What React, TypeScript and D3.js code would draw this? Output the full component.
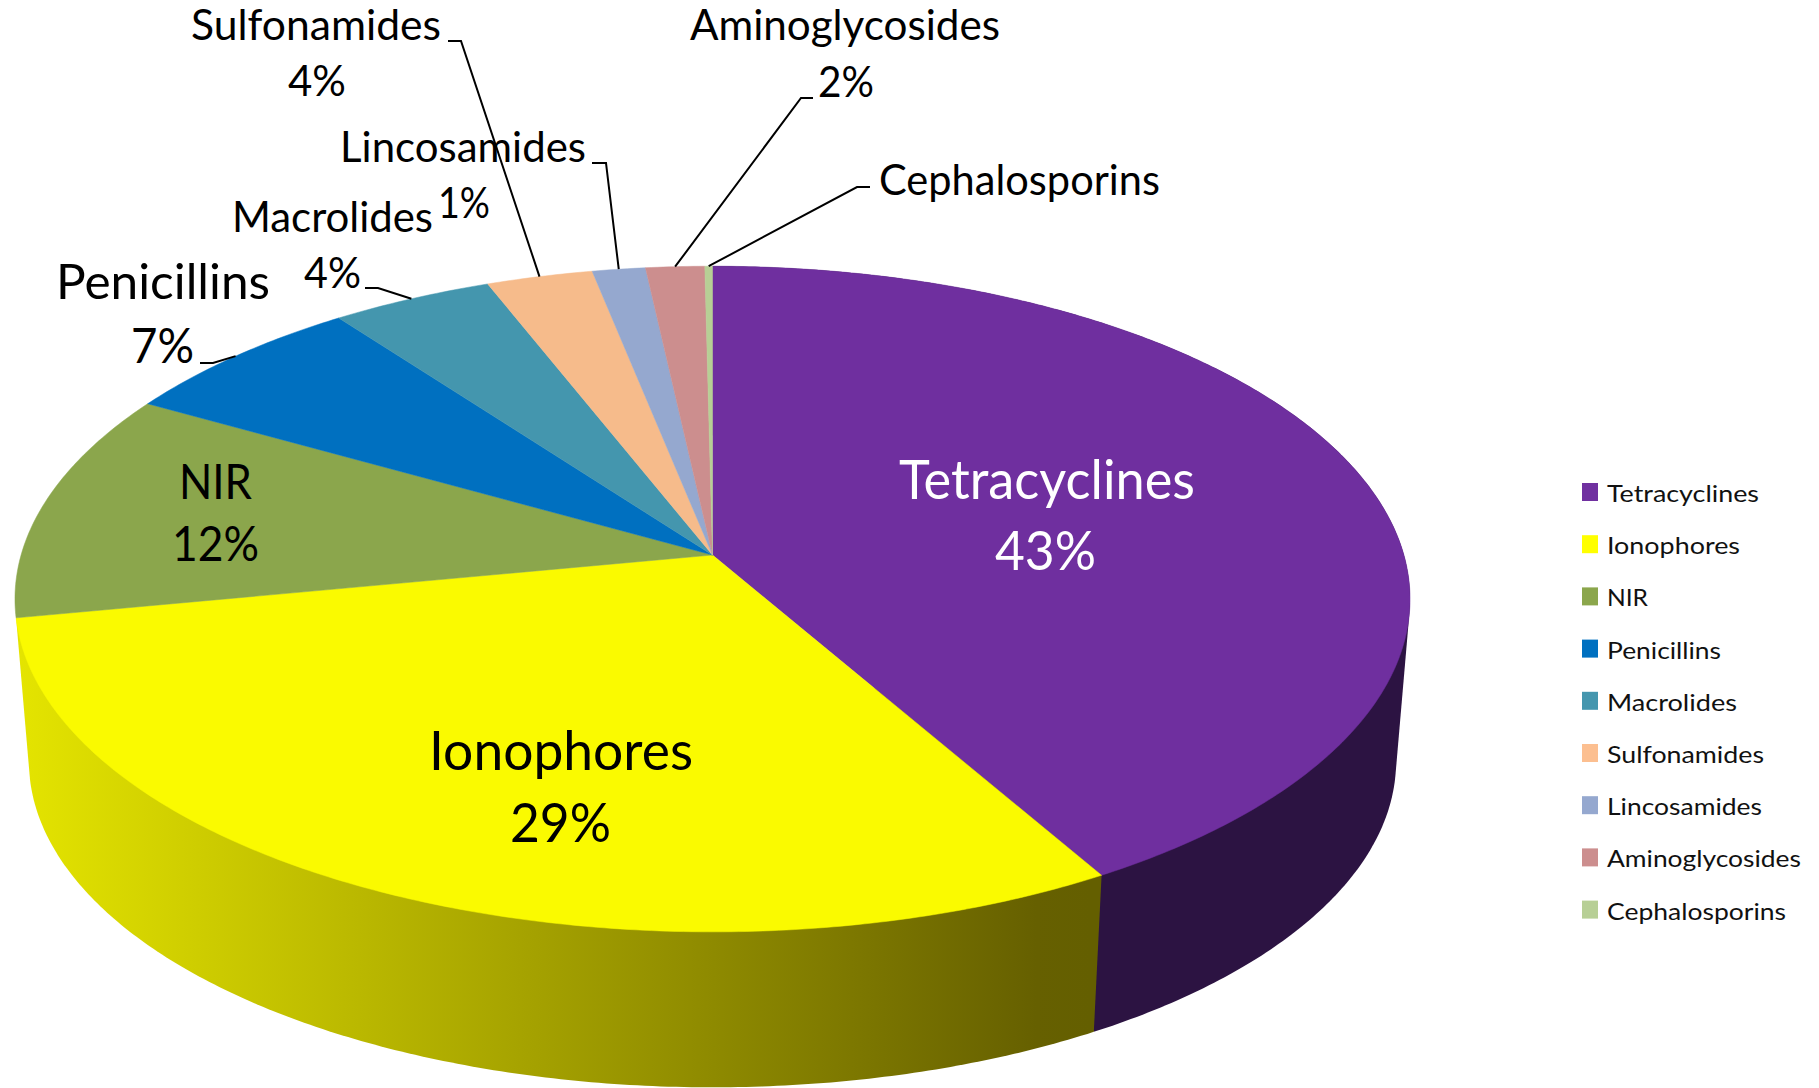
import React from "react";
import * as d3 from "d3";

const categories = ["Tetracyclines","Ionophores","NIR","Penicillins","Macrolides","Sulfonamides","Lincosamides","Aminoglycosides","Cephalosporins"];
// slice shares
const sliceShares = [41.7,30.3,11.2,6.6,4.25,2.8,1.4,1.55,0.2];
const percentLabels = ["43%","29%","12%","7%","4%","4%","1%","2%",""];
const colors = ["#6f2f9f","#fafa00","#8ba64c","#0070c0","#4496ae","#f6bb8b","#95a8cf","#cc8e8e","#b7cf95"];
const legendColors = ["#7030a0","#ffff00","#8ba64c","#0070c0","#4496ae","#fcbf90","#95a8cf","#cc8e8e","#b7cf95"];
const legendWidths = [152,133,41,114,130,157,155,194,179];

// name x, baseline y, width, font size; percent x, baseline y, width
const nameLayout = [
  [899,499,296,54],[429,770,264,54],[179,499,73,48],[56,299,214,48],[232,232,201,42],[191,40,250,42],[340,162,246,42],[690,40,310,42],[879,195,281,42],
];
const pctLayout = [
  [995,570,101,54],[510,842,101,54],[172,561,87,48],[131,363,63,48],[304,288,57,42],[288,96,58,42],[438,218,52,42],[818,97,56,42],null,
];
// leader elbows: [start x, elbow x, y]
const leaderElbows = [null,null,null,[200,213,363],[365,378,288],[448,461,41],[592,606,163],[813,801,98],[870,857,187]];

const W = 1819, H = 1088;
const CX = 712.5, AY = 555, A = 691.4, B = 327, K = 0.1323;
const S2 = 0.98, AY2 = 718;

function project(angle: number, r = 1, scale = 1, ay = AY): [number, number] {
  const u = Math.sin(angle) * r, v = -Math.cos(angle) * r;
  const d = 1 - K * v;
  return [CX + (scale * A * u) / d, ay + (scale * B * v) / d];
}

const line = d3.line();
function arcPoints(a0: number, a1: number, scale = 1, ay = AY) {
  const n = Math.max(2, Math.ceil(Math.abs(a1 - a0) / 0.01));
  return d3.range(n + 1).map(i => project(a0 + ((a1 - a0) * i) / n, 1, scale, ay));
}

const pie = d3.pie<number>().sort(null).value(d => d);
const arcs = pie(sliceShares);

export default function App() {
  return (
    <svg width={W} height={H} viewBox={`0 0 ${W} ${H}`} style={{ position: "absolute", left: 0, top: 0, background: "#fff" }} fontFamily="Lato, 'Open Sans', sans-serif">
      <defs>
        <linearGradient id="yellowWall" gradientUnits="userSpaceOnUse" x1={20} x2={1090} y1={0} y2={0}>
          <stop offset="0" stopColor="#e4e400" />
          <stop offset="0.95" stopColor="#666000" />
          <stop offset="1" stopColor="#645f00" />
        </linearGradient>
      </defs>
      {[0, 1].map(i => {
        const a = arcs[i];
        const hull = d3.polygonHull([...arcPoints(a.startAngle, a.endAngle), ...arcPoints(a.endAngle, a.startAngle, S2, AY2)])!;
        return <path key={i} d={line(hull)! + "Z"} fill={i === 1 ? "url(#yellowWall)" : "#2c1342"} />;
      })}
      {arcs.map((a, i) => (
        <path key={i} d={line([[CX, AY], ...arcPoints(a.startAngle, a.endAngle)])! + "Z"} fill={colors[i]} stroke={colors[i]} strokeWidth={0.5} />
      ))}
      {arcs.map((a, i) => {
        const e = leaderElbows[i];
        if (!e) return null;
        const end = project((a.startAngle + a.endAngle) / 2);
        return <path key={i} d={line([[e[0], e[2]], [e[1], e[2]], end])!} fill="none" stroke="#000" strokeWidth={2} />;
      })}
      {categories.map((c, i) => {
        const [x, y, w, fs] = nameLayout[i];
        const p = pctLayout[i];
        const fill = i === 0 ? "#fff" : "#000";
        return (
          <g key={c} fill={fill}>
            <text x={x} y={y} fontSize={fs} textLength={w} lengthAdjust="spacingAndGlyphs">{c}</text>
            {p && <text x={p[0]} y={p[1]} fontSize={fs} textLength={p[2]} lengthAdjust="spacingAndGlyphs">{percentLabels[i]}</text>}
          </g>
        );
      })}
      {categories.map((c, i) => {
        const yc = 492 + i * 52.2;
        return (
          <g key={c}>
            <rect x={1582} y={yc - 9} width={16} height={18} fill={legendColors[i]} />
            <text x={1607} y={yc + 10} fontSize={24} fill="#111" textLength={legendWidths[i]} lengthAdjust="spacingAndGlyphs">{c}</text>
          </g>
        );
      })}
    </svg>
  );
}
